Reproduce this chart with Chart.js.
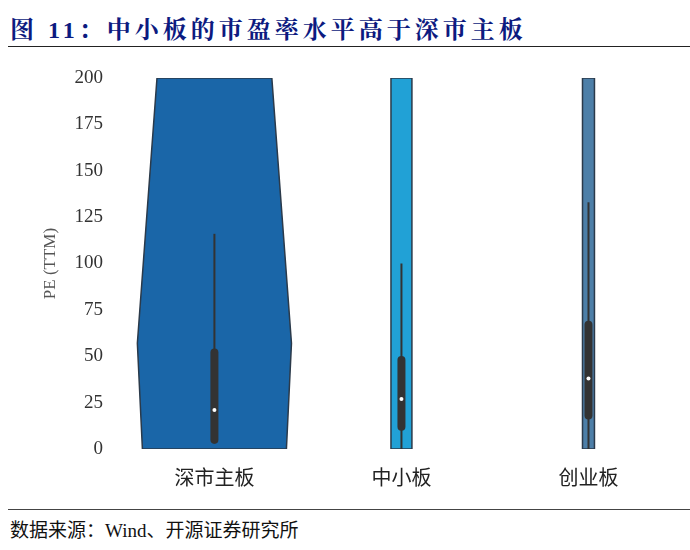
<!DOCTYPE html>
<html><head><meta charset="utf-8">
<script src="https://cdn.jsdelivr.net/npm/chart.js@4"></script>
<style>
body{margin:0;width:690px;height:550px;background:#fff;position:relative;font-family:"Liberation Serif","Noto Sans CJK SC",serif;overflow:hidden}
#title{position:absolute;left:10px;top:10px;font-size:24px;font-weight:bold;color:#0c1a80;font-family:"Liberation Serif","Noto Serif CJK SC","Noto Sans CJK SC",serif;letter-spacing:4px}
#l1{position:absolute;left:8px;right:0;top:46px;border-top:1.5px solid #222}
#l2{position:absolute;left:8px;right:0;top:509px;border-top:1px solid #444}
#src{position:absolute;left:10px;top:515px;font-size:19px;color:#111}
#wrap{position:absolute;left:0;top:55px;width:690px;height:446px}
</style></head><body>
<div id="title">图 11：中小板的市盈率水平高于深市主板</div>
<div id="l1"></div>
<div id="wrap"><canvas id="c"></canvas></div>
<div id="l2"></div>
<div id="src">数据来源：Wind、开源证券研究所</div>
<script>
const categories=["深市主板","中小板","创业板"];
const yTicks=[0,25,50,75,100,125,150,175,200];
const violinLevels=[[0,57,200],[0,200],[0,200]];
const violinHalf=[[0.385,0.412,0.307],[0.056,0.056],[0.032,0.032]];
const violinColors=["#1a66a8","#21a1d6","#4d7fa8"];
const whiskerLow=[3,0,0];
const q1=[5,12,18];
const medians=[21,27,38];
const q3=[52,48,67];
const whiskerHigh=[116,100,133];

const violinPlugin={id:'violins',beforeDatasetsDraw(chart){
  const {ctx,scales:{x,y},chartArea}=chart;
  ctx.save();
  ctx.beginPath();ctx.rect(chartArea.left,chartArea.top,chartArea.right-chartArea.left,chartArea.bottom-chartArea.top);ctx.clip();
  categories.forEach((c,i)=>{
    const lv=violinLevels[i],hw=violinHalf[i];
    ctx.beginPath();
    lv.forEach((v,k)=>{const px=x.getPixelForValue(i-hw[k]),py=y.getPixelForValue(v);k?ctx.lineTo(px,py):ctx.moveTo(px,py);});
    for(let k=lv.length-1;k>=0;k--){ctx.lineTo(x.getPixelForValue(i+hw[k]),y.getPixelForValue(lv[k]));}
    ctx.closePath();
    ctx.fillStyle=violinColors[i];ctx.fill();
    ctx.strokeStyle='#2b3a4a';ctx.lineWidth=1.5;ctx.stroke();
    const cx=x.getPixelForValue(i);
    ctx.strokeStyle='#333';ctx.lineCap='butt';
    ctx.lineWidth=2;ctx.beginPath();ctx.moveTo(cx,y.getPixelForValue(whiskerLow[i]));ctx.lineTo(cx,y.getPixelForValue(whiskerHigh[i]));ctx.stroke();
    ctx.lineWidth=8;ctx.lineCap='round';ctx.beginPath();ctx.moveTo(cx,y.getPixelForValue(q1[i]));ctx.lineTo(cx,y.getPixelForValue(q3[i]));ctx.stroke();
    ctx.fillStyle='#fff';ctx.beginPath();ctx.arc(cx,y.getPixelForValue(medians[i]),2,0,Math.PI*2);ctx.fill();
  });
  ctx.restore();
}};

new Chart(document.getElementById('c'),{
  type:'scatter',
  data:{datasets:[{data:[],pointRadius:0}]},
  plugins:[violinPlugin],
  options:{responsive:true,maintainAspectRatio:false,animation:false,
    layout:{padding:{top:23,right:8,left:36,bottom:4}},
    plugins:{legend:{display:false},tooltip:{enabled:false}},
    scales:{
      x:{type:'linear',min:-0.5,max:2.5,grid:{display:false},border:{display:false},
        afterBuildTicks(s){s.ticks=categories.map((c,i)=>({value:i}));},
        ticks:{callback:(v)=>categories[v]??'',color:'#222',font:{size:20,family:'"Noto Sans CJK SC"'},padding:8,maxRotation:0}},
      y:{min:0,max:200,grid:{display:false},border:{display:false},
        afterBuildTicks(s){s.ticks=yTicks.map(v=>({value:v}));},
        ticks:{color:'#333',font:{size:19,family:'"Liberation Serif"'},padding:10},
        title:{display:true,text:'PE (TTM)',color:'#555',font:{size:17,family:'"Liberation Serif"'}}}
    }}
});
</script></body></html>
